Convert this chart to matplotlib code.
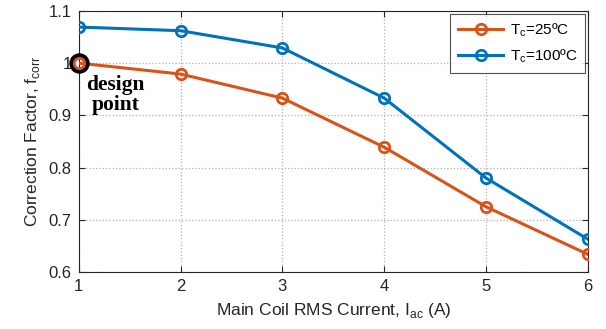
import matplotlib
matplotlib.use("Agg")
import matplotlib.pyplot as plt

current = [1, 2, 3, 4, 5, 6]
f_25 = [1.000, 0.979, 0.933, 0.839, 0.725, 0.634]
f_100 = [1.069, 1.062, 1.029, 0.933, 0.780, 0.663]
labels = ["T$_\\mathregular{c}$=25ºC", "T$_\\mathregular{c}$=100ºC"]
xticks = [1, 2, 3, 4, 5, 6]
yticks = [0.6, 0.7, 0.8, 0.9, 1.0, 1.1]
yticklabels = ["0.6", "0.7", "0.8", "0.9", "1", "1.1"]

plt.rcParams['font.family'] = ['Liberation Sans', 'DejaVu Sans']
plt.rcParams['mathtext.fontset'] = 'custom'
plt.rcParams['mathtext.rm'] = 'Liberation Sans'

fig = plt.figure(figsize=(6.06, 3.29), dpi=100)
ax = fig.add_axes([0.130, 0.173, 0.840, 0.794])

orange = '#D95319'
blue = '#0072BD'

ax.plot(current, f_25, color=orange, lw=2.2, marker='o', ms=7.5, mfc='none', mew=2, label=labels[0], zorder=3)
ax.plot(current, f_100, color=blue, lw=2.2, marker='o', ms=7.5, mfc='none', mew=2, label=labels[1], zorder=3)
# design point
ax.plot([current[0]], [f_25[0]], marker='o', ms=11.5, mfc='none', mec='black', mew=3.2, zorder=4, clip_on=False)
ax.plot([current[0]], [f_25[0]], marker='o', ms=7.5, mfc='none', mec=orange, mew=2, zorder=5, clip_on=False)
ax.text(1.07, 0.978, "design\npoint", family=['Liberation Serif', 'DejaVu Serif'], fontweight='bold',
        fontsize=15.5, va='top', ha='left', multialignment='center', linespacing=1.0, zorder=6)

ax.set_xlim(1, 6)
ax.set_ylim(0.6, 1.1)
ax.set_xticks(xticks)
ax.set_yticks(yticks)
ax.set_yticklabels(yticklabels)
ax.tick_params(direction='in', top=True, right=True, labelsize=12, colors='#262626', length=4, pad=5)
ax.grid(True, linestyle=':', color='#b0b0b0', lw=0.9)
for s in ax.spines.values():
    s.set_color('#262626')
    s.set_linewidth(0.8)

ax.set_xlabel("Main Coil RMS Current, I$_\\mathregular{ac}$ (A)", fontsize=12.5, color='#262626', labelpad=5)
ax.set_ylabel("Correction Factor, f$_\\mathregular{corr}$", fontsize=12.5, color='#262626', labelpad=5)

leg = ax.legend(loc='upper right', fontsize=11, frameon=True, fancybox=False, edgecolor='#262626',
                handlelength=3.0, borderaxespad=0.2, labelspacing=0.55, borderpad=0.5, handletextpad=0.4)
leg.get_frame().set_linewidth(0.8)

fig.savefig("out.png", dpi=100)
